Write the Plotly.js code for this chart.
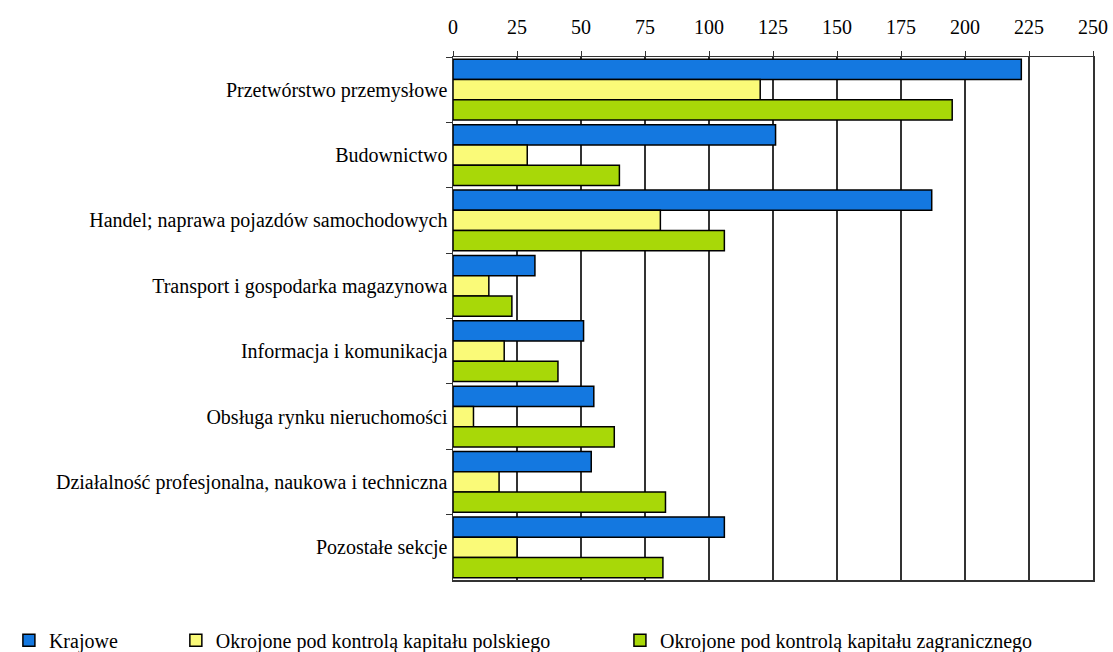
<!DOCTYPE html>
<html>
<head>
<meta charset="utf-8">
<script src="https://cdn.plot.ly/plotly-3.0.1.min.js"></script>
<style>html,body{margin:0;padding:0;background:#fff;}#chart{width:1113px;height:652px;}</style>
</head>
<body>
<div id="chart"></div>
<script>
const categories = [
  "Przetwórstwo przemysłowe",
  "Budownictwo",
  "Handel; naprawa pojazdów samochodowych",
  "Transport i gospodarka magazynowa",
  "Informacja i komunikacja",
  "Obsługa rynku nieruchomości",
  "Działalność profesjonalna, naukowa i techniczna",
  "Pozostałe sekcje"
];
const seriesNames = [
  "Krajowe",
  "Okrojone pod kontrolą kapitału polskiego",
  "Okrojone pod kontrolą kapitału zagranicznego"
];
const krajowe = [222, 126, 187, 32, 51, 55, 54, 106];
const polskiego = [120, 29, 81, 14, 20, 8, 18, 25];
const zagranicznego = [195, 65, 106, 23, 41, 63, 83, 82];
const xTicks = [0, 25, 50, 75, 100, 125, 150, 175, 200, 225, 250];

const colors = ["#1478e0", "#fafa78", "#a8d808"];
const values = [krajowe, polskiego, zagranicznego];
const legendIds = ["legend", "legend2", "legend3"];
const legendX = [0.008, 0.158, 0.557];

const traces = values.map((v, i) => ({
  type: "bar",
  orientation: "h",
  name: seriesNames[i],
  y: categories,
  x: v,
  legend: legendIds[i],
  marker: { color: colors[i], line: { color: "#000", width: 1.5 } },
  hoverinfo: "x+name"
}));

const font = "Times New Roman";
const layout = {
  width: 1113,
  height: 652,
  paper_bgcolor: "#fff",
  plot_bgcolor: "#fff",
  margin: { l: 453, r: 20, t: 57, b: 72, autoexpand: false },
  barmode: "group",
  bargap: 0.07,
  bargroupgap: 0,
  font: { family: font, size: 18, color: "#000" },
  xaxis: {
    side: "top",
    range: [0, 250],
    tickvals: xTicks,
    ticktext: xTicks.map(String),
    showgrid: true,
    gridcolor: "#333",
    gridwidth: 1.5,
    showline: true,
    linecolor: "#333",
    linewidth: 1.5,
    mirror: true,
    ticks: "outside",
    ticklen: 5,
    tickcolor: "#333",
    ticklabelstandoff: 9,
    tickfont: { family: font, size: 20, color: "#000" },
    zeroline: false,
    fixedrange: true
  },
  yaxis: {
    autorange: "reversed",
    showline: true,
    linecolor: "#333",
    linewidth: 1.5,
    mirror: true,
    ticks: "outside",
    tickson: "boundaries",
    ticklen: 6,
    tickcolor: "#333",
    tickfont: { family: font, size: 20, color: "#000" },
    showgrid: false,
    fixedrange: true
  },
  showlegend: true
};
legendIds.forEach((id, i) => {
  layout[id] = {
    orientation: "h",
    xref: "container",
    yref: "container",
    x: legendX[i],
    y: 0.018,
    xanchor: "left",
    yanchor: "middle",
    bgcolor: "rgba(0,0,0,0)",
    font: { family: font, size: 20, color: "#000" },
    itemwidth: 30
  };
});

Plotly.newPlot("chart", traces, layout, { displayModeBar: false, staticPlot: true });
</script>
</body>
</html>
